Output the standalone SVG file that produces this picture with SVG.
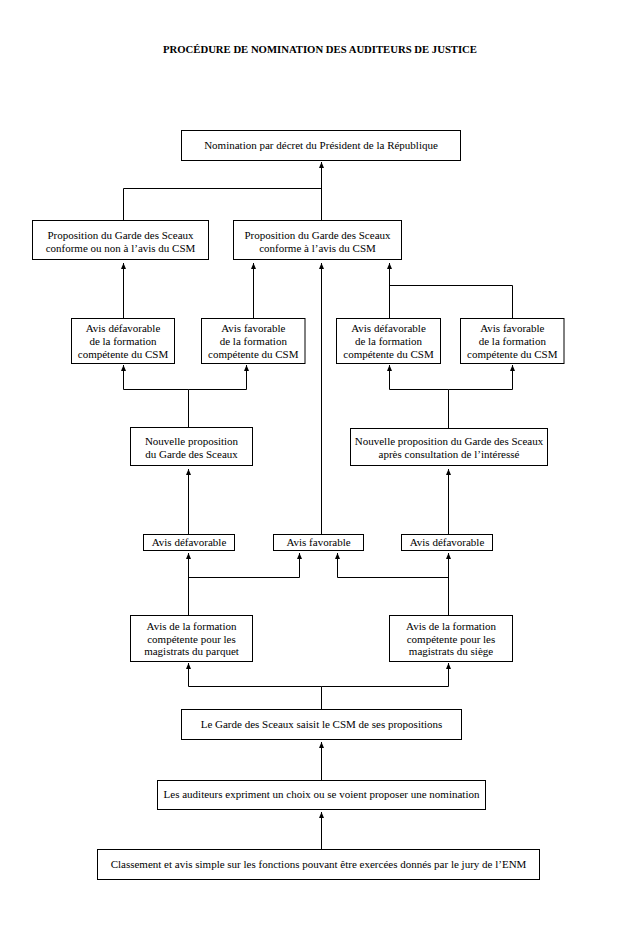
<svg xmlns="http://www.w3.org/2000/svg" width="640" height="938" viewBox="0 0 640 938">
<style>
  .box { fill: #fff; stroke: #000; stroke-width: 1; }
  .t { font-family: "Liberation Serif", "Times New Roman", serif; font-size: 11px; fill: #000; text-anchor: middle; }
  .title { font-family: "Liberation Serif", "Times New Roman", serif; font-size: 10.7px; font-weight: bold; fill: #000; text-anchor: middle; }
  .c { fill: none; stroke: #000; stroke-width: 1; }
  .a { marker-end: url(#ah); }
</style>
<defs>
  <marker id="ah" markerUnits="userSpaceOnUse" markerWidth="7" markerHeight="6" refX="6" refY="3" orient="auto">
    <path d="M0,0.5 L6,3 L0,5.5 z" fill="#000"/>
  </marker>
</defs>
<rect width="640" height="938" fill="#fff"/>
<text class="title" x="320" y="53">PROCÉDURE DE NOMINATION DES AUDITEURS DE JUSTICE</text>

<g id="connectors">
  <path class="c a" d="M321.5 220 V162"/>
  <path class="c" d="M123.5 220 V188.5 H321.5"/>
  <path class="c a" d="M123.5 318 V263"/>
  <path class="c a" d="M253.5 318 V263"/>
  <path class="c a" d="M321.5 534 V263"/>
  <path class="c a" d="M389.5 318 V263"/>
  <path class="c" d="M389.5 285.5 H512.5 V318"/>
  <path class="c a" d="M188.5 427 V389.5 H123.5 V365"/>
  <path class="c a" d="M188.5 389.5 H246.5 V365"/>
  <path class="c a" d="M448.5 428 V389.5 H389.5 V365"/>
  <path class="c a" d="M448.5 389.5 H512.5 V365"/>
  <path class="c a" d="M188.5 534 V469"/>
  <path class="c a" d="M448.5 534 V469"/>
  <path class="c a" d="M188.5 615 V553"/>
  <path class="c a" d="M188.5 577.5 H299.5 V553"/>
  <path class="c a" d="M448.5 615 V553"/>
  <path class="c a" d="M448.5 577.5 H337.5 V553"/>
  <path class="c a" d="M321.5 709 V686.5 H188.5 V663"/>
  <path class="c a" d="M321.5 686.5 H448.5 V663"/>
  <path class="c a" d="M321.5 780 V742"/>
  <path class="c a" d="M321.5 849 V812"/>
</g>

<g id="n-nomination">
  <rect class="box" x="181.5" y="130.5" width="279" height="30"/>
  <text class="t" x="321" y="149">Nomination par décret du Président de la République</text>
</g>
<g id="n-prop-conforme-ou-non">
  <rect class="box" x="32.5" y="220.5" width="176" height="39"/>
  <text class="t" x="120.5" y="238.5">Proposition du Garde des Sceaux</text>
  <text class="t" x="120.5" y="252">conforme ou non à l’avis du CSM</text>
</g>
<g id="n-prop-conforme">
  <rect class="box" x="233.5" y="220.5" width="168" height="39"/>
  <text class="t" x="317.5" y="238.5">Proposition du Garde des Sceaux</text>
  <text class="t" x="317.5" y="252">conforme à l’avis du CSM</text>
</g>
<g id="n-avis-def-1">
  <rect class="box" x="71.5" y="318.5" width="103" height="45"/>
  <text class="t" x="123" y="332">Avis défavorable</text>
  <text class="t" x="123" y="345">de la formation</text>
  <text class="t" x="123" y="357.5">compétente du CSM</text>
</g>
<g id="n-avis-fav-1">
  <rect class="box" x="201.5" y="318.5" width="103.5" height="45"/>
  <text class="t" x="253.3" y="332">Avis favorable</text>
  <text class="t" x="253.3" y="345">de la formation</text>
  <text class="t" x="253.3" y="357.5">compétente du CSM</text>
</g>
<g id="n-avis-def-2">
  <rect class="box" x="336.5" y="318.5" width="104" height="45"/>
  <text class="t" x="388.5" y="332">Avis défavorable</text>
  <text class="t" x="388.5" y="345">de la formation</text>
  <text class="t" x="388.5" y="357.5">compétente du CSM</text>
</g>
<g id="n-avis-fav-2">
  <rect class="box" x="460.5" y="318.5" width="103.5" height="45"/>
  <text class="t" x="512.3" y="332">Avis favorable</text>
  <text class="t" x="512.3" y="345">de la formation</text>
  <text class="t" x="512.3" y="357.5">compétente du CSM</text>
</g>
<g id="n-nouvelle-1">
  <rect class="box" x="130.5" y="427.5" width="122" height="38"/>
  <text class="t" x="191.5" y="444.5">Nouvelle proposition</text>
  <text class="t" x="191.5" y="457.5">du Garde des Sceaux</text>
</g>
<g id="n-nouvelle-2">
  <rect class="box" x="350.5" y="428.5" width="197" height="37"/>
  <text class="t" x="449" y="444.5">Nouvelle proposition du Garde des Sceaux</text>
  <text class="t" x="449" y="457.5">après consultation de l’intéressé</text>
</g>
<g id="n-def-parquet">
  <rect class="box" x="143.5" y="534.5" width="91" height="16"/>
  <text class="t" x="189" y="545.5">Avis défavorable</text>
</g>
<g id="n-fav">
  <rect class="box" x="273.5" y="534.5" width="90" height="16"/>
  <text class="t" x="318.5" y="545.5">Avis favorable</text>
</g>
<g id="n-def-siege">
  <rect class="box" x="401.5" y="534.5" width="91" height="16"/>
  <text class="t" x="447" y="545.5">Avis défavorable</text>
</g>
<g id="n-formation-parquet">
  <rect class="box" x="130.5" y="615.5" width="122" height="46"/>
  <text class="t" x="191.5" y="630">Avis de la formation</text>
  <text class="t" x="191.5" y="642.5">compétente pour les</text>
  <text class="t" x="191.5" y="654.5">magistrats du parquet</text>
</g>
<g id="n-formation-siege">
  <rect class="box" x="389.5" y="615.5" width="123" height="46"/>
  <text class="t" x="451" y="630">Avis de la formation</text>
  <text class="t" x="451" y="642.5">compétente pour les</text>
  <text class="t" x="451" y="654.5">magistrats du siège</text>
</g>
<g id="n-garde">
  <rect class="box" x="181.5" y="709.5" width="280" height="30"/>
  <text class="t" x="321.5" y="728">Le Garde des Sceaux saisit le CSM de ses propositions</text>
</g>
<g id="n-auditeurs">
  <rect class="box" x="157.5" y="780.5" width="328" height="29"/>
  <text class="t" x="321.5" y="798">Les auditeurs expriment un choix ou se voient proposer une nomination</text>
</g>
<g id="n-classement">
  <rect class="box" x="97.5" y="849.5" width="442" height="30"/>
  <text class="t" x="318.5" y="868">Classement et avis simple sur les fonctions pouvant être exercées donnés par le jury de  l’ENM</text>
</g>
</svg>
